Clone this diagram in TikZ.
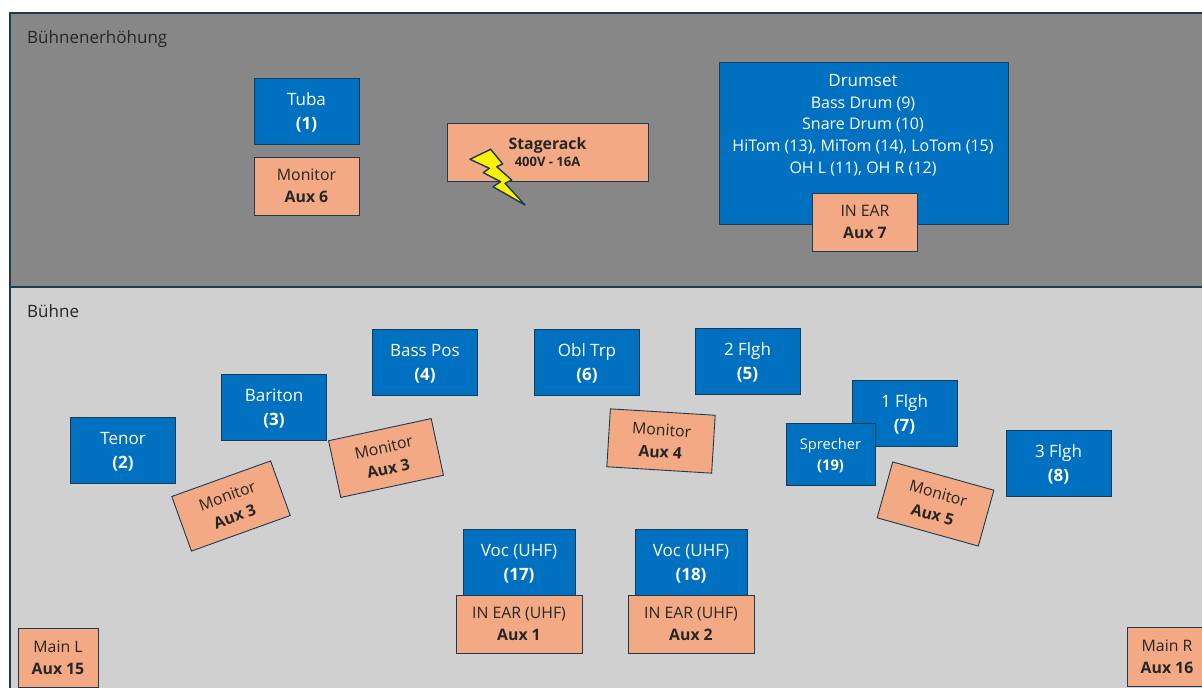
\documentclass[tikz,border=0pt]{standalone}
\usepackage{fontspec}
\setmainfont{Open Sans}
\definecolor{stagegray}{HTML}{878787}
\definecolor{floorgray}{HTML}{D0D0D0}
\definecolor{edgeblue}{HTML}{1B3B52}
\definecolor{playerblue}{HTML}{0070C0}
\definecolor{outpeach}{HTML}{F3A983}
\tikzset{
	area/.style={draw=edgeblue,line width=1.5pt},
	player/.style={draw=edgeblue,line width=0.9pt,fill=playerblue,text=white,align=center,minimum width=105pt,minimum height=66pt,inner sep=0pt,text height=40pt,text depth=4pt,font=\fontsize{17}{24}\selectfont},
	output/.style={draw=edgeblue,line width=0.9pt,fill=outpeach,text=black!85,align=center,minimum width=105pt,minimum height=58pt,inner sep=0pt,font=\fontsize{15.8}{22}\selectfont},
	areatitle/.style={anchor=base west,inner sep=0pt,text=black!85,font=\fontsize{17}{20}\selectfont},
}
\begin{document}
\begin{tikzpicture}[x=1pt,y=-1pt]
\useasboundingbox (0,0) rectangle (1202,688);
\begin{scope}
\clip (0,0) rectangle (1202,688);
\draw[area,fill=stagegray] (10,13) rectangle (1230,287);
\draw[area,fill=floorgray] (10,287) rectangle (1230,720);
\node[areatitle] (raised) at (27,43) {Bühnenerhöhung};
\node[areatitle] (floor) at (27,317) {Bühne};
% raised part
\node[player] (tuba) at (306.5,111) {Tuba\\\textbf{(1)}};
\node[output] (mon6) at (306.5,186) {Monitor\\\textbf{Aux 6}};
\node[output,minimum width=201pt] (rack) at (547.5,152) {\textbf{Stagerack}\\[-5pt]{\fontsize{13}{15}\selectfont\textbf{400V - 16A}}};
\draw[draw=edgeblue,line width=1.4pt,line join=round,fill=yellow] (470,159.3) -- (490.7,149.3) -- (502.7,164) -- (496.7,166.7) -- (511.7,180) -- (505,183.3) -- (525,205) -- (493,186.7) -- (500.7,181.7) -- (483.3,172.7) -- (489.3,168.3) -- cycle;
\node[player,minimum width=289pt,minimum height=162pt,text height=,text depth=] (drums) at (863.5,143) {};
\node[text=white,align=center,inner sep=0pt,font=\fontsize{16}{21.7}\selectfont] (drumtext) at (863,125) {{\fontsize{17}{21}\selectfont Drumset}\\Bass Drum (9)\\Snare Drum (10)\\HiTom (13), MiTom (14), LoTom (15)\\OH L (11), OH R (12)};
\node[output] (ear7) at (865,222) {IN EAR\\\textbf{Aux 7}};
% stage
\node[player] (bass) at (425,362) {Bass Pos\\\textbf{(4)}};
\node[player] (obl) at (587,362) {Obl Trp\\\textbf{(6)}};
\node[player] (flgh2) at (747.5,361) {2 Flgh\\\textbf{(5)}};
\node[player] (bariton) at (274,407) {Bariton\\\textbf{(3)}};
\node[player] (tenor) at (123,450.5) {Tenor\\\textbf{(2)}};
\node[player] (flgh1) at (904.5,413) {1 Flgh\\\textbf{(7)}};
\node[player,minimum width=89pt,minimum height=62pt,text height=36pt,font=\fontsize{14.7}{20.5}\selectfont] (sprecher) at (830.5,454) {Sprecher\\\textbf{(19)}};
\node[player] (flgh3) at (1058.5,463) {3 Flgh\\\textbf{(8)}};
\node[player,minimum width=112pt] (voc1) at (519,562) {Voc (UHF)\\\textbf{(17)}};
\node[player,minimum width=112pt] (voc2) at (691,562) {Voc (UHF)\\\textbf{(18)}};
\node[output,minimum width=126pt] (ear1) at (519,624) {IN EAR (UHF)\\\textbf{Aux 1}};
\node[output,minimum width=126pt] (ear2) at (691,624) {IN EAR (UHF)\\\textbf{Aux 2}};
\node[output,rotate=19.8] (mon3a) at (231,506) {Monitor\\\textbf{Aux 3}};
\node[output,rotate=12.2] (mon3b) at (386,458) {Monitor\\\textbf{Aux 3}};
\node[output,rotate=-3.5] (mon4) at (661,441) {Monitor\\\textbf{Aux 4}};
\node[output,rotate=-15.6] (mon5) at (935.5,504) {Monitor\\\textbf{Aux 5}};
\node[output,minimum width=80pt,minimum height=59pt] (mainl) at (58,657.5) {Main L\\\textbf{Aux 15}};
\node[output,minimum width=80pt,minimum height=59pt] (mainr) at (1167,656.5) {Main R\\\textbf{Aux 16}};
\end{scope}
\end{tikzpicture}
\end{document}
